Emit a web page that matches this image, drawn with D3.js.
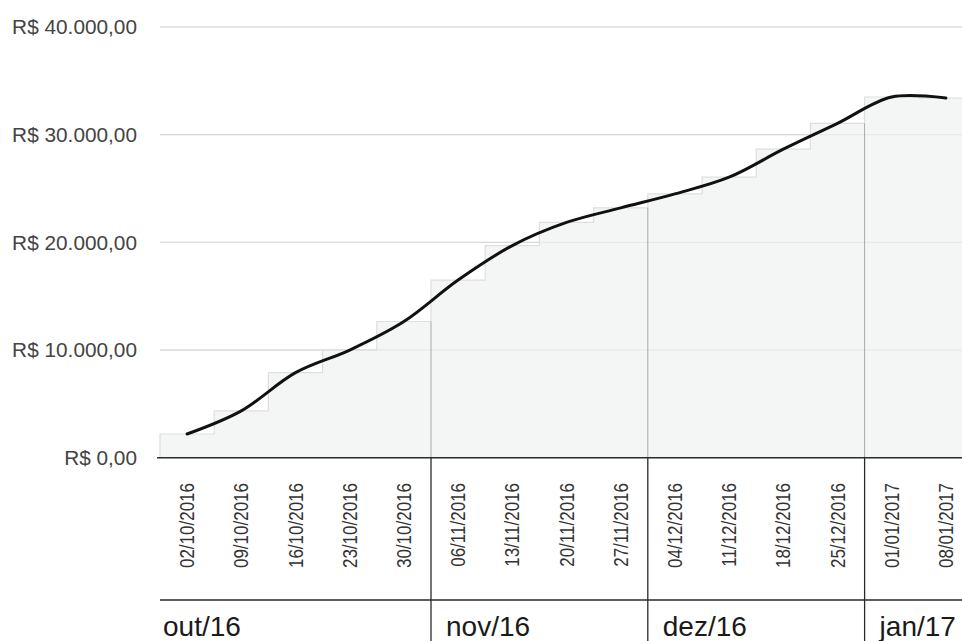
<!DOCTYPE html>
<html>
<head>
<meta charset="utf-8">
<script src="https://cdn.jsdelivr.net/npm/d3@7/dist/d3.min.js"></script>
<style>
  html, body { margin: 0; padding: 0; background: #fff; }
  svg { display: block; }
  text { font-family: "Liberation Sans", Arial, sans-serif; }
</style>
</head>
<body>
<svg id="chart" width="962" height="641"></svg>
<script>
// Weekly dates (category axis)
const weeks = [
  "02/10/2016", "09/10/2016", "16/10/2016", "23/10/2016", "30/10/2016",
  "06/11/2016", "13/11/2016", "20/11/2016", "27/11/2016",
  "04/12/2016", "11/12/2016", "18/12/2016", "25/12/2016",
  "01/01/2017", "08/01/2017"
];
// Accumulated value per week (R$)
const totals = [
  2200, 4350, 7900, 10000, 12650,
  16500, 19700, 21850, 23200,
  24500, 26050, 28650, 31050,
  33500, 33400
];
// Month groups: label and index of the first week in that month
const months = ["out/16", "nov/16", "dez/16", "jan/17"];
const monthStart = [0, 5, 9, 13];
// Y axis tick values
const yTicks = [0, 10000, 20000, 30000, 40000];

(function draw() {
  const svg = d3.select("#chart");
  const W = 962, H = 641;
  const plotLeft = 160, plotTop = 27, baseY = 457.7, axisRight = 973;
  const monthRowY = 600;

  const ptBR = d3.formatLocale({
    decimal: ",", thousands: ".", grouping: [3], currency: ["R$ ", ""]
  });
  const fmt = ptBR.format("$,.2f");

  const x = d3.scaleBand().domain(weeks).range([plotLeft, axisRight]).padding(0);
  const y = d3.scaleLinear().domain([0, 40000]).range([baseY, plotTop]);
  const cx = d => x(d) + x.bandwidth() / 2;

  // Horizontal gridlines
  svg.append("g")
    .selectAll("line")
    .data(yTicks.filter(t => t > 0))
    .join("line")
    .attr("x1", plotLeft).attr("x2", W)
    .attr("y1", d => y(d)).attr("y2", d => y(d))
    .attr("stroke", "#d6d6d6").attr("stroke-width", 1.2);

  // Y axis labels
  const yAxis = d3.axisLeft(y).tickValues(yTicks).tickFormat(fmt).tickSize(0).tickPadding(0);
  const gy = svg.append("g").attr("transform", "translate(137,0)").call(yAxis);
  gy.select(".domain").remove();
  gy.selectAll("text")
    .attr("font-size", 20.8)
    .attr("fill", "#444")
    .attr("font-family", "'Liberation Sans', Arial, sans-serif");

  // Stepped area
  const steps = weeks.map((w, i) => ({ w, v: totals[i] }));
  const stepPts = [];
  steps.forEach(s => {
    stepPts.push([x(s.w), y(s.v)]);
    stepPts.push([x(s.w) + x.bandwidth(), y(s.v)]);
  });
  const area = d3.area().x(d => d[0]).y0(baseY).y1(d => d[1]);
  svg.append("path")
    .datum(stepPts)
    .attr("d", area)
    .attr("fill", "#f4f6f6");

  // Faint gridlines visible through the area
  svg.append("g")
    .selectAll("line")
    .data(yTicks.filter(t => t > 0))
    .join("line")
    .attr("x1", plotLeft).attr("x2", W)
    .attr("y1", d => y(d)).attr("y2", d => y(d))
    .attr("stroke", "#dcdcdc").attr("stroke-width", 1)
    .attr("opacity", 0.6);

  // Step outline
  const stepLine = d3.line().x(d => d[0]).y(d => d[1]);
  svg.append("path")
    .datum([[x(weeks[0]), baseY], ...stepPts])
    .attr("d", stepLine)
    .attr("fill", "none")
    .attr("stroke", "#dedede")
    .attr("stroke-width", 1.2);

  // Month separators inside the area
  svg.append("g")
    .selectAll("line")
    .data(monthStart.slice(1))
    .join("line")
    .attr("x1", i => x(weeks[i])).attr("x2", i => x(weeks[i]))
    .attr("y1", baseY)
    .attr("y2", i => y(Math.min(totals[i - 1], totals[i])))
    .attr("stroke", "#a8a8a8").attr("stroke-width", 1);

  // Smoothed line through the weekly totals
  const line = d3.line()
    .x(s => cx(s.w))
    .y(s => y(s.v))
    .curve(d3.curveCatmullRom.alpha(0.5));
  svg.append("path")
    .datum(steps)
    .attr("d", line)
    .attr("fill", "none")
    .attr("stroke", "#111")
    .attr("stroke-width", 3)
    .attr("stroke-linecap", "round");

  // Baseline and month row line
  svg.append("line")
    .attr("x1", plotLeft - 3).attr("x2", W)
    .attr("y1", baseY).attr("y2", baseY)
    .attr("stroke", "#2a2a2a").attr("stroke-width", 1.5);
  svg.append("line")
    .attr("x1", plotLeft).attr("x2", W)
    .attr("y1", monthRowY).attr("y2", monthRowY)
    .attr("stroke", "#2a2a2a").attr("stroke-width", 1.5);

  // Month separators in the axis area
  svg.append("g")
    .selectAll("line")
    .data(monthStart.slice(1))
    .join("line")
    .attr("x1", i => x(weeks[i])).attr("x2", i => x(weeks[i]))
    .attr("y1", baseY).attr("y2", H)
    .attr("stroke", "#2a2a2a").attr("stroke-width", 1.3);

  // Date labels (vertical, slightly widened glyphs)
  svg.append("g")
    .selectAll("text")
    .data(weeks)
    .join("text")
    .attr("transform", d => `translate(${cx(d)},483) rotate(-90) scale(1,1.2)`)
    .attr("text-anchor", "end")
    .attr("dy", "0.35em")
    .attr("font-size", 17)
    .attr("fill", "#333")
    .text(d => d);

  // Month labels
  svg.append("g")
    .selectAll("text")
    .data(months)
    .join("text")
    .attr("x", (m, i) => i === 0 ? plotLeft + 3 : x(weeks[monthStart[i]]) + 15)
    .attr("y", 636)
    .attr("font-size", 28)
    .attr("fill", "#1a1a1a")
    .text(m => m);
})();
</script>
</body>
</html>
